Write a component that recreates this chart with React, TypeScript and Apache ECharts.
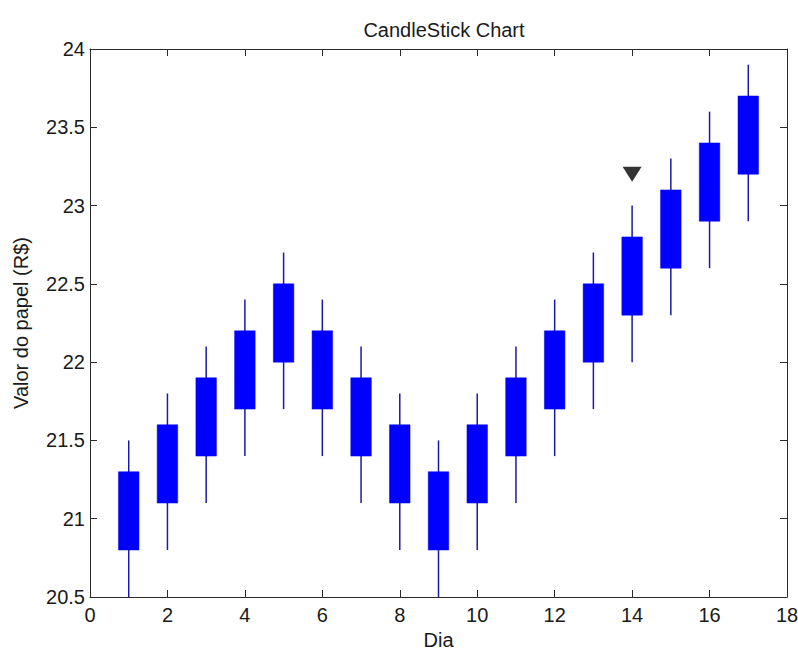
import React, { useEffect, useRef } from "react";
import * as echarts from "echarts";

// Daily candles: [day, open, close, low, high]
const days = [1, 2, 3, 4, 5, 6, 7, 8, 9, 10, 11, 12, 13, 14, 15, 16, 17];
const opens = [20.8, 21.1, 21.4, 21.7, 22.0, 21.7, 21.4, 21.1, 20.8, 21.1, 21.4, 21.7, 22.0, 22.3, 22.6, 22.9, 23.2];
const closes = [21.3, 21.6, 21.9, 22.2, 22.5, 22.2, 21.9, 21.6, 21.3, 21.6, 21.9, 22.2, 22.5, 22.8, 23.1, 23.4, 23.7];
const lows = [20.5, 20.8, 21.1, 21.4, 21.7, 21.4, 21.1, 20.8, 20.5, 20.8, 21.1, 21.4, 21.7, 22.0, 22.3, 22.6, 22.9];
const highs = [21.5, 21.8, 22.1, 22.4, 22.7, 22.4, 22.1, 21.8, 21.5, 21.8, 22.1, 22.4, 22.7, 23.0, 23.3, 23.6, 23.9];

// Signal marker
const markerDay = 14;
const markerValue = 23.2;

const BOX_WIDTH = 0.53;
const FONT = '"Liberation Sans", Arial, Helvetica, sans-serif';
const FONT_SIZE = 20;
const AXIS_COLOR = "#2b2b2b";
const TEXT_COLOR = "#1a1a1a";

export default function App() {
  const ref = useRef<HTMLDivElement>(null);

  useEffect(() => {
    if (!ref.current) return;
    const chart = echarts.init(ref.current, null, { renderer: "svg" });

    const candleData = days.map((d, i) => [d, opens[i], closes[i], lows[i], highs[i]]);

    const axisCommon = {
      axisLine: { show: true, onZero: false, lineStyle: { color: AXIS_COLOR, width: 1 } },
      axisTick: { show: true, inside: true, length: 7, lineStyle: { color: AXIS_COLOR, width: 1 } },
      splitLine: { show: false },
    };

    chart.setOption({
      animation: false,
      backgroundColor: "#ffffff",
      title: {
        text: "CandleStick Chart",
        left: 439,
        textAlign: "center",
        top: 15,
        textStyle: { fontFamily: FONT, fontSize: FONT_SIZE, fontWeight: "normal", color: TEXT_COLOR },
      },
      grid: { left: 90, right: 11, top: 49, bottom: 53, outerBoundsMode: "none", containLabel: false },
      xAxis: [
        {
          type: "value",
          min: 0,
          max: 18,
          interval: 2,
          name: "Dia",
          nameLocation: "middle",
          nameGap: 33,
          nameTextStyle: { fontFamily: FONT, fontSize: FONT_SIZE, color: TEXT_COLOR },
          axisLabel: { fontFamily: FONT, fontSize: FONT_SIZE, color: TEXT_COLOR, margin: 8 },
          ...axisCommon,
        },
        {
          type: "value",
          position: "top",
          min: 0,
          max: 18,
          interval: 2,
          axisLabel: { show: false },
          ...axisCommon,
        },
      ],
      yAxis: [
        {
          type: "value",
          min: 20.5,
          max: 24,
          interval: 0.5,
          name: "Valor do papel (R$)",
          nameLocation: "middle",
          nameGap: 59,
          nameTextStyle: { fontFamily: FONT, fontSize: FONT_SIZE, color: TEXT_COLOR },
          axisLabel: { fontFamily: FONT, fontSize: FONT_SIZE, color: TEXT_COLOR, margin: 5 },
          ...axisCommon,
        },
        {
          type: "value",
          position: "right",
          min: 20.5,
          max: 24,
          interval: 0.5,
          axisLabel: { show: false },
          ...axisCommon,
        },
      ],
      series: [
        {
          type: "custom",
          clip: true,
          data: candleData,
          encode: { x: 0, y: [1, 2, 3, 4] },
          renderItem: (params: any, api: any) => {
            const x = api.value(0);
            const o = api.value(1);
            const c = api.value(2);
            const lo = api.value(3);
            const hi = api.value(4);
            const lowPt = api.coord([x, lo]);
            const highPt = api.coord([x, hi]);
            const top = api.coord([x, Math.max(o, c)]);
            const bot = api.coord([x, Math.min(o, c)]);
            const w = api.size([BOX_WIDTH, 0])[0];
            return {
              type: "group",
              children: [
                {
                  type: "line",
                  shape: { x1: lowPt[0], y1: lowPt[1], x2: highPt[0], y2: highPt[1] },
                  style: { stroke: "#1a1aa6", lineWidth: 1.5 },
                },
                {
                  type: "rect",
                  shape: { x: top[0] - w / 2, y: top[1], width: w, height: bot[1] - top[1] },
                  style: { fill: "#0000ff", stroke: "#0000e6", lineWidth: 0.5 },
                },
              ],
            };
          },
        },
        {
          type: "scatter",
          data: [[markerDay, markerValue]],
          symbol: "triangle",
          symbolRotate: 180,
          symbolSize: [19, 15],
          itemStyle: { color: "#000000" },
        },
      ],
    });

    return () => chart.dispose();
  }, []);

  return (
    <div
      ref={ref}
      style={{ position: "fixed", left: 0, top: 0, width: 798, height: 650, background: "#fff" }}
    />
  );
}
